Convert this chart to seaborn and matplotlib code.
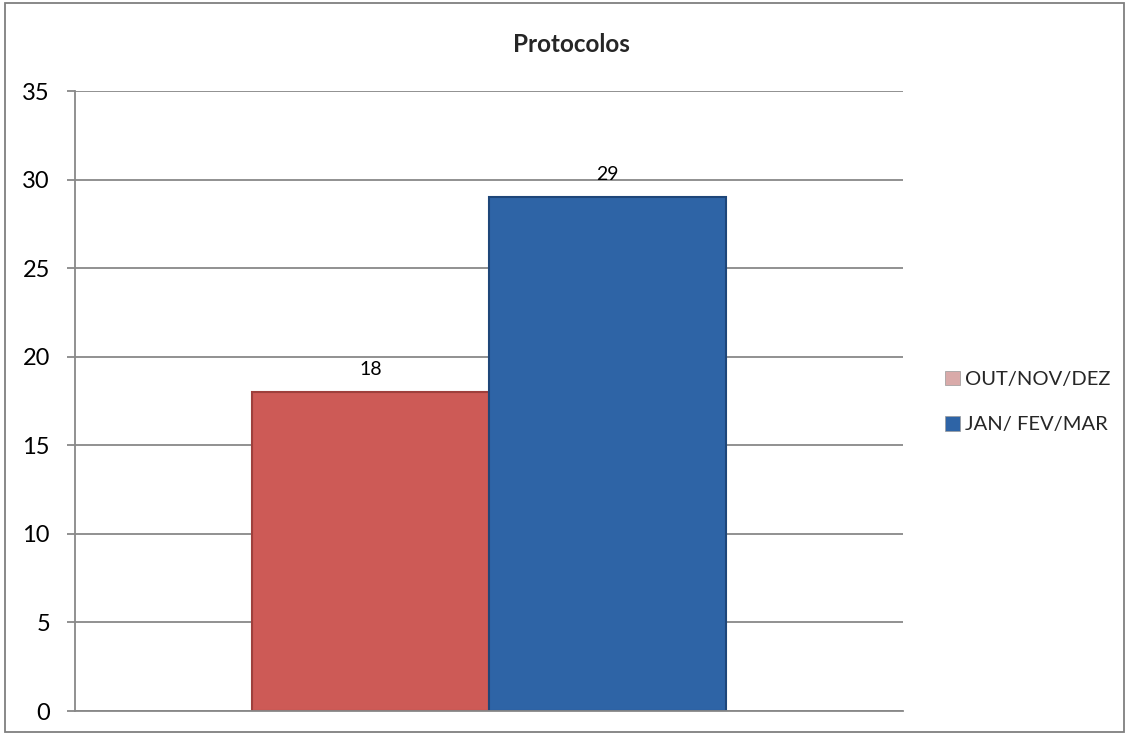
import matplotlib
matplotlib.use("Agg")
import matplotlib.pyplot as plt
import matplotlib.patches as mpatches
import pandas as pd
import seaborn as sns

# ── Data ──────────────────────────────────────────────────────
CATEGORY = ["Protocolos"]
PERIODS  = ["OUT/NOV/DEZ", "JAN/ FEV/MAR"]
VALUES   = [18, 29]

BAR_COLORS    = ["#CD5A56", "#2E64A6"]
EDGE_COLORS   = ["#9E3F3C", "#1E4679"]
LEGEND_COLORS = ["#D9AAA9", "#2E64A6"]
GRID_GRAY     = "#888888"

df = pd.DataFrame({
    "cat"    : CATEGORY * len(PERIODS),
    "periodo": PERIODS,
    "valor"  : VALUES,
})

sns.set_theme(style="white")
plt.rcParams["font.family"] = ["Lato", "DejaVu Sans"]

fig = plt.figure(figsize=(11.29, 7.35), dpi=100)
ax = fig.add_axes([75 / 1129, 1 - 711 / 735, 828 / 1129, 620 / 735])

sns.barplot(data=df, x="cat", y="valor", hue="periodo", hue_order=PERIODS,
            palette=BAR_COLORS, width=0.572, ax=ax, legend=False,
            saturation=1)

for container, ec in zip(ax.containers, EDGE_COLORS):
    for bar in container:
        bar.set_edgecolor(ec)
        bar.set_linewidth(1.5)
    ax.bar_label(container, padding=10, fontsize=14, color="black")

# ── Axes styling ──────────────────────────────────────────────
ax.set_ylim(0, 35)
ax.set_xlim(-0.5, 0.5)
ax.set_yticks(range(0, 36, 5))
ax.yaxis.grid(True, color=GRID_GRAY, linewidth=1.3)
ax.set_axisbelow(True)
ax.set_xlabel("")
ax.set_ylabel("")
ax.set_xticks([])

for side in ["top", "right"]:
    ax.spines[side].set_visible(False)
for side in ["left", "bottom"]:
    ax.spines[side].set_color(GRID_GRAY)
    ax.spines[side].set_linewidth(1.3)

ax.tick_params(axis="y", left=True, length=6, width=1.3, color=GRID_GRAY,
               labelsize=17, pad=12, labelcolor="black")

# ── Title & legend ────────────────────────────────────────────
fig.text(571 / 1129, 1 - 44 / 735, "Protocolos", ha="center", va="center",
         fontsize=17.5, fontweight="bold")

handles = [mpatches.Patch(facecolor=c, edgecolor="#999999", linewidth=0.5)
           for c in LEGEND_COLORS]
fig.legend(handles, PERIODS, loc="center left",
           bbox_to_anchor=(945 / 1129, 1 - 402 / 735), frameon=False,
           borderpad=0, borderaxespad=0,
           fontsize=14.5, handlelength=0.75, handleheight=0.75,
           handletextpad=0.25, labelspacing=1.4)

# ── Outer border ──────────────────────────────────────────────
fig.patches.append(mpatches.Rectangle(
    (5 / 1129, 3 / 735), 1119 / 1129, 729 / 735, transform=fig.transFigure,
    fill=False, edgecolor="#7F7F7F", linewidth=1.3))

plt.savefig("out.png", dpi=100)
